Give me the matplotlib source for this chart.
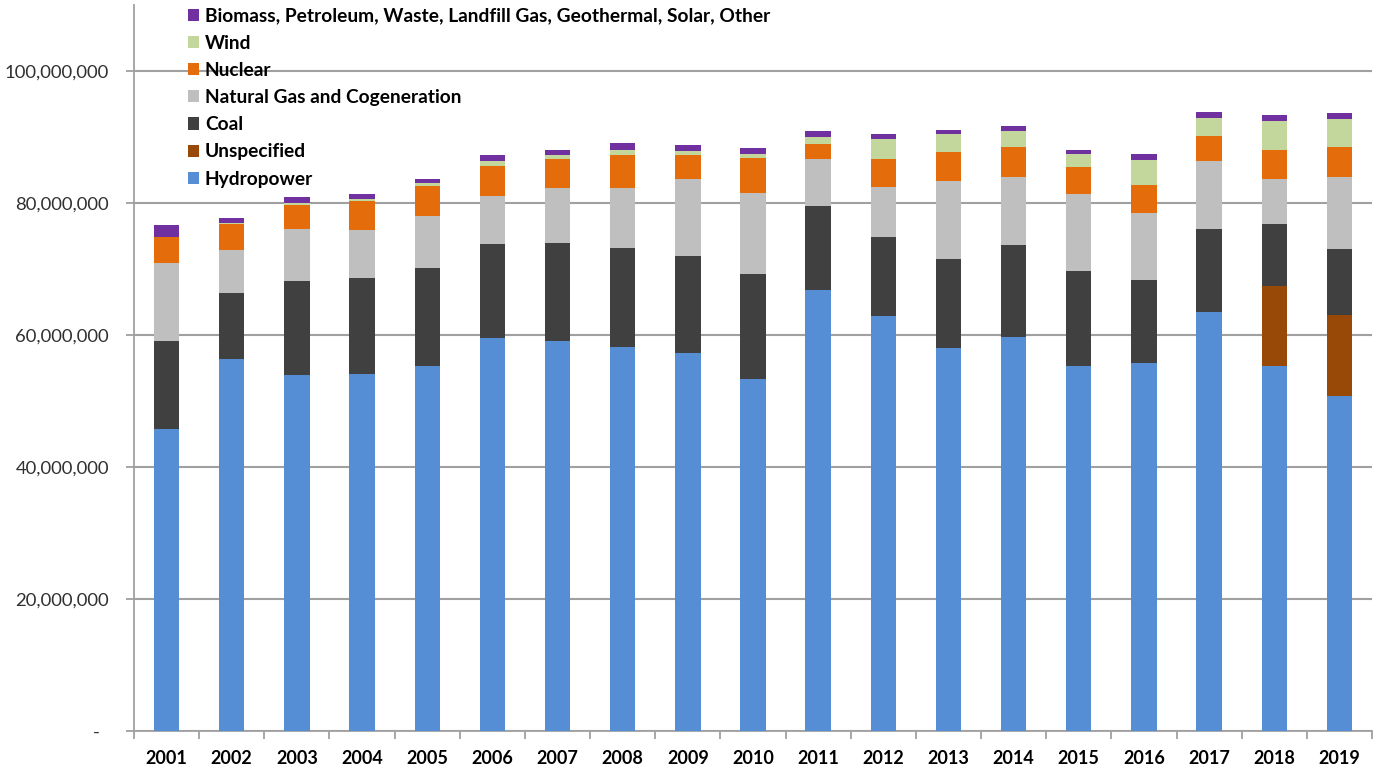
import numpy as np
import matplotlib
matplotlib.use('Agg')
import matplotlib.pyplot as plt
from matplotlib.ticker import FuncFormatter, FixedLocator

plt.rcParams['font.family'] = ['Lato', 'DejaVu Sans']

years = ['2001', '2002', '2003', '2004', '2005', '2006', '2007', '2008', '2009', '2010',
         '2011', '2012', '2013', '2014', '2015', '2016', '2017', '2018', '2019']

# values in millions
hydro = [45.8, 56.4, 53.9, 54.1, 55.3, 59.6, 59.1, 58.2, 57.3, 53.4,
         66.8, 62.9, 58.1, 59.7, 55.3, 55.7, 63.5, 55.3, 50.7]
unspecified = [0, 0, 0, 0, 0, 0, 0, 0, 0, 0,
               0, 0, 0, 0, 0, 0, 0, 12.1, 12.4]
coal = [13.3, 9.9, 14.3, 14.5, 14.9, 14.2, 14.9, 15.0, 14.6, 15.9,
        12.7, 12.0, 13.4, 13.9, 14.4, 12.7, 12.6, 9.4, 10.0]
gas = [11.8, 6.6, 7.9, 7.3, 7.9, 7.2, 8.3, 9.0, 11.7, 12.2,
       7.1, 7.6, 11.9, 10.4, 11.7, 10.1, 10.2, 6.9, 10.8]
nuclear = [3.9, 3.9, 3.6, 4.4, 4.5, 4.6, 4.3, 5.0, 3.7, 5.3,
           2.3, 4.1, 4.3, 4.5, 4.0, 4.3, 3.9, 4.4, 4.6]
wind = [0.0, 0.2, 0.3, 0.3, 0.5, 0.8, 0.7, 0.9, 0.6, 0.7,
        1.1, 3.1, 2.8, 2.4, 2.0, 3.7, 2.7, 4.3, 4.2]
other = [1.8, 0.7, 0.9, 0.7, 0.6, 0.9, 0.8, 1.0, 0.9, 0.8,
         0.9, 0.8, 0.6, 0.8, 0.7, 0.9, 0.9, 0.9, 1.0]

series = [
    ('Hydropower', hydro, '#558ed5'),
    ('Unspecified', unspecified, '#984807'),
    ('Coal', coal, '#404040'),
    ('Natural Gas and Cogeneration', gas, '#bfbfbf'),
    ('Nuclear', nuclear, '#e46c0a'),
    ('Wind', wind, '#c3d69b'),
    ('Biomass, Petroleum, Waste, Landfill Gas, Geothermal, Solar, Other', other, '#7030a0'),
]

fig = plt.figure(figsize=(13.77, 7.73), dpi=100)
ax = fig.add_axes([134/1377, 42/773, (1372-134)/1377, 726/773])

x = np.arange(len(years))
bottom = np.zeros(len(years))
handles = []
for name, vals, col in series:
    v = np.array(vals) * 1e6
    b = ax.bar(x, v, 0.39, bottom=bottom, color=col, label=name, zorder=3)
    handles.append(b)
    bottom += v

ax.set_xlim(-0.5, len(years) - 0.5)
ax.set_ylim(0, 110e6)
ax.set_yticks(np.arange(0, 100e6 + 1, 20e6))
ax.yaxis.set_major_formatter(FuncFormatter(lambda v, p: '-  ' if v == 0 else f'{v:,.0f}'))
ax.grid(axis='y', color='#a0a0a0', linewidth=1.5, zorder=0)

ax.set_xticks(x)
ax.set_xticklabels(years, fontweight='bold', fontsize=13)
ax.xaxis.set_minor_locator(FixedLocator(np.arange(-0.5, len(years), 1)))
ax.tick_params(axis='x', which='major', length=0, pad=14)
ax.tick_params(axis='x', which='minor', length=6, color='#a0a0a0', width=1.3)
ax.tick_params(axis='y', length=6, color='#a0a0a0', width=1.3, labelsize=13.3, labelcolor='#303030', pad=12)

for s in ['top', 'right']:
    ax.spines[s].set_visible(False)
for s in ['left', 'bottom']:
    ax.spines[s].set_color('#a0a0a0')
    ax.spines[s].set_linewidth(1.3)

leg = ax.legend(handles[::-1], [s[0] for s in series][::-1], loc='upper left',
                bbox_to_anchor=(180/1377, 1.0), bbox_transform=fig.transFigure,
                borderaxespad=0, frameon=False, prop={'weight': 'bold', 'size': 13.8},
                handlelength=0.6, handleheight=0.6, handletextpad=0.3, labelspacing=0.53)

fig.savefig('out.png', dpi=100)
